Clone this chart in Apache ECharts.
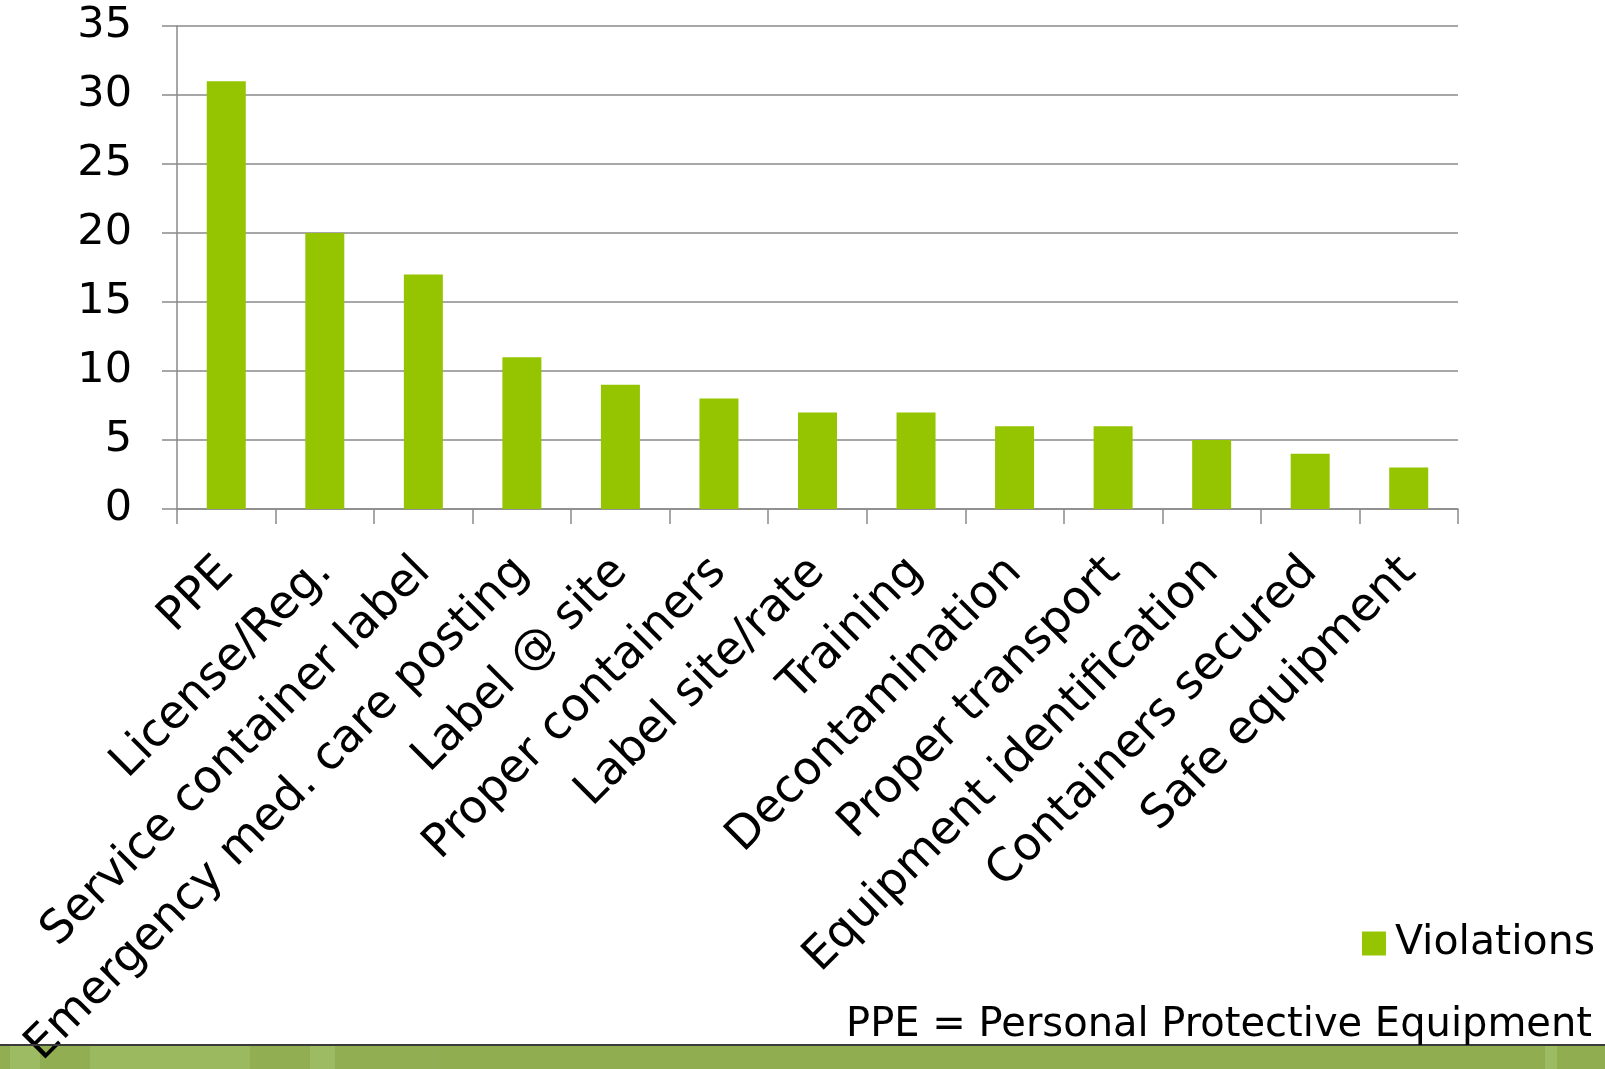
<!DOCTYPE html>
<html>
<head>
<meta charset="utf-8">
<script src="https://cdn.jsdelivr.net/npm/echarts@6/dist/echarts.min.js"></script>
<style>
  html, body { margin: 0; padding: 0; background: #fff; }
  #chart { width: 1605px; height: 1069px; }
</style>
</head>
<body>
<div id="chart"></div>
<script>
const categories = ["PPE", "License/Reg.", "Service container label", "Emergency med. care posting",
  "Label @ site", "Proper containers", "Label site/rate", "Training", "Decontamination",
  "Proper transport", "Equipment identification", "Containers secured", "Safe equipment"];
const violations = [31, 20, 17, 11, 9, 8, 7, 7, 6, 6, 5, 4, 3];
const yTicks = [0, 5, 10, 15, 20, 25, 30, 35];

const fontFam = "DejaVu Sans";
const chart = echarts.init(document.getElementById("chart"));

chart.setOption({
  animation: false,
  textStyle: { fontFamily: fontFam, color: "#000" },
  grid: { left: 177, right: 147, top: 26, bottom: 560, outerBoundsMode: "none", containLabel: false },
  legend: {
    right: 5, top: 918,
    itemWidth: 24, itemHeight: 24, itemGap: 10,
    icon: "rect",
    textStyle: { fontSize: 41, color: "#000", fontFamily: fontFam, padding: [0, 0, 0, 4] },
    data: ["Violations"]
  },
  title: {
    text: "PPE = Personal Protective Equipment",
    right: 8, top: 1001,
    textStyle: { fontSize: 40, fontWeight: "normal", color: "#000", fontFamily: fontFam }
  },
  xAxis: {
    type: "category",
    data: categories,
    axisLine: { lineStyle: { color: "#8a8a8a", width: 1.5 } },
    axisTick: { show: true, length: 15, alignWithLabel: false, lineStyle: { color: "#8a8a8a", width: 1.5 } },
    axisLabel: { rotate: 45, interval: 0, fontSize: 46, color: "#000", margin: 56, fontFamily: fontFam }
  },
  yAxis: {
    type: "value",
    min: 0, max: 35, interval: 5,
    axisLine: { show: true, lineStyle: { color: "#8a8a8a", width: 1.5 } },
    axisTick: { show: true, length: 15, lineStyle: { color: "#8a8a8a", width: 1.5 } },
    splitLine: { lineStyle: { color: "#8a8a8a", width: 1.5 } },
    axisLabel: {
      fontSize: 43, color: "#000", margin: 45, fontFamily: fontFam, padding: [12, 0, 0, 0],
      formatter: v => yTicks.includes(v) ? String(v) : ""
    }
  },
  series: [{
    name: "Violations",
    type: "bar",
    data: violations,
    barWidth: 39,
    itemStyle: { color: "#95c400" }
  }],
  graphic: [
    { type: "rect", shape: { x: 0, y: 1046, width: 1605, height: 23 }, style: { fill: "#92ae52" }, z: 0 },
    { type: "rect", shape: { x: 10, y: 1046, width: 30, height: 23 }, style: { fill: "#9cbb62" }, z: 0 },
    { type: "rect", shape: { x: 90, y: 1046, width: 160, height: 23 }, style: { fill: "#9bb95f" }, z: 0 },
    { type: "rect", shape: { x: 310, y: 1046, width: 25, height: 23 }, style: { fill: "#9cbb62" }, z: 0 },
    { type: "rect", shape: { x: 440, y: 1046, width: 1165, height: 23 }, style: { fill: "#90ad50" }, z: 0 },
    { type: "rect", shape: { x: 1545, y: 1046, width: 12, height: 23 }, style: { fill: "#9cbb62" }, z: 0 },
    { type: "line", shape: { x1: 0, y1: 1045, x2: 1605, y2: 1045 }, style: { stroke: "#3a3a3a", lineWidth: 2 }, z: 1 }
  ]
});
</script>
</body>
</html>
